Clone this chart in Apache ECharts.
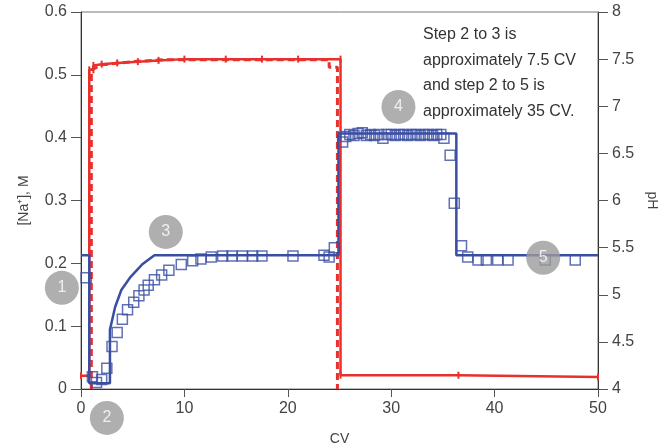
<!DOCTYPE html>
<html>
<head>
<meta charset="utf-8">
<script src="https://cdn.jsdelivr.net/npm/echarts@6/dist/echarts.min.js"></script>
<style>
  html, body { margin: 0; padding: 0; background: #fff; }
  #chart { width: 660px; height: 446px; }
</style>
</head>
<body>
<div id="chart"></div>
<script>
// [CV, Na+ M] gradient program (solid red)
const naProgram = [
  [0, 0.021], [0.8, 0.021], [0.8, 0.508], [1.2, 0.508], [1.2, 0.515], [2, 0.517],
  [3.5, 0.519], [5.5, 0.521], [7.5, 0.523], [10, 0.525], [14, 0.525], [17.5, 0.525],
  [21, 0.525], [25.1, 0.525], [25.1, 0.022], [36.5, 0.022], [50, 0.019]
];
// [CV, Na+ M] measured conductivity trace (dashed red)
const naMeasured = [
  [1.0, 0.0], [1.0, 0.508], [2, 0.516], [5, 0.521], [8, 0.524], [24.0, 0.524],
  [24.0, 0.512], [24.8, 0.512], [24.8, 0.0]
];
// [CV, pH] pH program (solid blue)
const phProgram = [
  [0, 5.42], [0.8, 5.42], [0.8, 4.06], [2.8, 4.06], [2.8, 4.63], [3.3, 4.87],
  [3.9, 5.05], [4.8, 5.19], [5.9, 5.32], [7.1, 5.42], [24.9, 5.42], [24.9, 6.71],
  [36.3, 6.71], [36.3, 5.42], [50, 5.42]
];
// [CV, pH] measured pH (open squares)
const phMeasured = [
  [0.5, 5.18], [1.1, 4.13], [1.5, 4.07], [2.0, 4.1], [2.5, 4.22], [3.0, 4.45],
  [3.5, 4.6], [4.0, 4.74], [4.5, 4.84], [5.1, 4.92], [5.6, 4.99], [6.1, 5.05],
  [6.5, 5.1], [7.1, 5.16], [7.8, 5.21], [8.5, 5.26], [9.7, 5.32], [10.8, 5.36],
  [11.6, 5.38], [12.6, 5.4], [13.7, 5.41], [14.6, 5.41], [15.6, 5.41], [16.6, 5.41],
  [17.5, 5.41], [20.5, 5.41], [23.5, 5.42], [24.0, 5.4], [24.5, 5.5],
  [25.3, 6.62], [25.6, 6.68], [26.0, 6.7], [26.4, 6.69], [26.8, 6.71], [27.2, 6.72],
  [27.6, 6.69], [28.0, 6.7], [28.4, 6.69], [28.8, 6.7], [29.2, 6.66], [29.6, 6.7],
  [30.0, 6.7], [30.4, 6.69], [30.8, 6.7], [31.2, 6.7], [31.6, 6.69], [32.0, 6.7],
  [32.4, 6.7], [32.8, 6.69], [33.2, 6.7], [33.6, 6.7], [34.0, 6.69], [34.4, 6.7],
  [34.8, 6.7], [35.1, 6.66], [35.7, 6.48], [36.1, 5.97], [36.8, 5.52], [37.4, 5.4],
  [38.4, 5.37], [39.2, 5.37], [40.3, 5.37], [41.3, 5.37], [44.9, 5.37], [47.8, 5.37]
];
// step markers [CV, Na+ M, label]
const stepMarkers = [
  [-1.85, 0.161, '1'], [2.5, -0.046, '2'], [8.2, 0.25, '3'], [30.7, 0.449, '4'], [44.7, 0.209, '5']
];
const noteLines = ['Step 2 to 3 is', 'approximately 7.5 CV', 'and step 2 to 5 is', 'approximately 35 CV.'];

const RED = '#e8302c';
const BLUE = '#3a4ea3';
const FONT = 'Liberation Sans';

const chart = echarts.init(document.getElementById('chart'), null, { renderer: 'canvas' });

const axisCommon = {
  axisLine: { show: true, lineStyle: { color: '#333', width: 1 } },
  axisTick: { show: true, inside: false, length: 10, lineStyle: { color: '#555' } },
  axisLabel: { color: '#444', fontSize: 16, fontFamily: FONT, margin: 14 },
  splitLine: { show: false },
  nameMoveOverlap: false,
  nameTextStyle: { color: '#444', fontSize: 14, fontFamily: FONT }
};

chart.setOption({
  backgroundColor: '#fff',
  animation: false,
  grid: {
    left: 81, right: 62, top: 12, bottom: 57, outerBoundsMode: 'none', containLabel: false,
    show: true, borderColor: '#777', borderWidth: 1
  },
  xAxis: {
    type: 'value', min: 0, max: 50, interval: 10,
    name: 'CV', nameLocation: 'middle', nameGap: 43,
    ...axisCommon,
    axisTick: { show: true, length: 8, lineStyle: { color: '#555' } },
    axisLabel: { ...axisCommon.axisLabel, margin: 12 }
  },
  yAxis: [
    {
      type: 'value', min: 0, max: 0.6, interval: 0.1, position: 'left',
      name: '[Na⁺], M', nameLocation: 'middle', nameGap: 50, nameRotate: 90,
      ...axisCommon
    },
    {
      type: 'value', min: 4, max: 8, interval: 0.5, position: 'right',
      name: 'pH', nameLocation: 'middle', nameGap: 47, nameRotate: -90,
      ...axisCommon
    }
  ],
  graphic: [{
    type: 'text', left: 423, top: 22,
    style: { text: noteLines.join('\n'), fill: '#333', font: '16px "Liberation Sans"', lineHeight: 25.5 }
  }],
  series: [
    {
      type: 'line', yAxisIndex: 0, data: naMeasured, symbol: 'none',
      lineStyle: { color: RED, width: 3, type: [7, 4] }, z: 2
    },
    {
      type: 'line', yAxisIndex: 0, data: naProgram, symbol: 'rect', symbolSize: [2, 7],
      itemStyle: { color: RED }, lineStyle: { color: RED, width: 2.5 }, z: 3
    },
    {
      type: 'line', yAxisIndex: 1, data: phProgram, symbol: 'none',
      lineStyle: { color: BLUE, width: 2.5 }, z: 4
    },
    {
      type: 'scatter', yAxisIndex: 1, data: phMeasured, symbol: 'rect', symbolSize: 10,
      itemStyle: { color: 'rgba(255,255,255,0)', borderColor: BLUE, borderWidth: 1.5 }, z: 5
    },
    {
      type: 'scatter', yAxisIndex: 0, data: stepMarkers, symbolSize: 34, clip: false,
      itemStyle: { color: '#9b9b9b' }, z: 6,
      label: {
        show: true, position: 'inside', color: '#fff', fontSize: 16, fontFamily: FONT,
        formatter: p => p.value[2]
      }
    }
  ]
});
</script>
</body>
</html>
